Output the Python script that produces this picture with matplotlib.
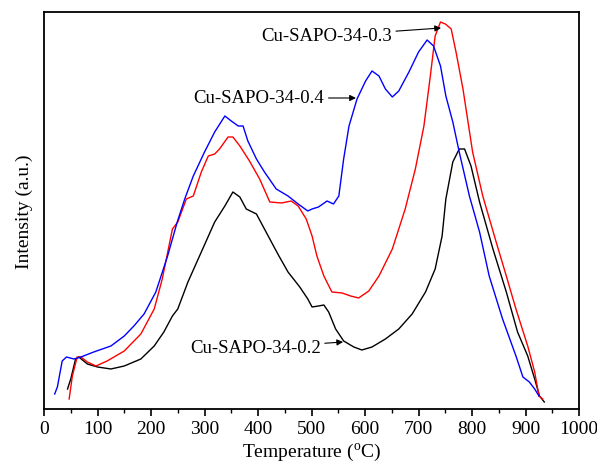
import matplotlib
matplotlib.use("Agg")
import matplotlib.pyplot as plt
from matplotlib.ticker import MultipleLocator

# --- data (temperature in C, intensity in a.u.) ---
t_02 = [44, 50, 59, 65, 81, 100, 125, 150, 181, 206, 224, 240, 250, 269, 294, 319, 338,
        353, 366, 378, 397, 419, 437, 456, 478, 493, 501, 513, 523, 532, 545, 560, 579,
        594, 613, 638, 663, 688, 713, 731, 744, 751, 764, 776, 786, 798, 814, 839, 864,
        885, 904, 917, 926, 935]
i_02 = [20, 30, 50, 52, 45, 42, 40, 43, 50, 63, 77, 93, 100, 127, 157, 187, 203,
        217, 212, 200, 195, 173, 155, 137, 122, 110, 102, 103, 104, 97, 80, 68, 62,
        59, 62, 70, 80, 95, 117, 140, 173, 210, 247, 260, 260, 243, 207, 160, 117,
        77, 53, 30, 13, 7]

t_03 = [47, 53, 62, 69, 81, 97, 118, 150, 181, 206, 221, 240, 250, 266, 279, 294, 307,
        319, 328, 344, 353, 366, 384, 403, 422, 444, 462, 475, 490, 501, 510, 523, 538,
        557, 573, 588, 607, 626, 651, 675, 694, 710, 722, 731, 741, 750, 761, 770, 783,
        801, 820, 845, 864, 882, 904, 917, 925, 932]
i_03 = [10, 33, 52, 52, 47, 43, 48, 58, 75, 100, 130, 180, 187, 210, 213, 237, 253,
        255, 260, 272, 272, 263, 248, 230, 207, 206, 208, 203, 190, 173, 153, 133, 117,
        116, 113, 111, 118, 133, 160, 200, 240, 283, 333, 373, 387, 385, 380, 357, 320,
        257, 213, 167, 133, 100, 63, 37, 13, 10]

t_04 = [20, 25, 34, 42, 56, 69, 93, 125, 150, 168, 187, 209, 231, 249, 263, 279, 300,
        319, 338, 350, 363, 372, 381, 397, 412, 434, 456, 475, 493, 501, 513, 529, 541,
        551, 560, 570, 585, 601, 613, 626, 638, 651, 663, 682, 700, 716, 728, 741, 751,
        764, 776, 795, 814, 832, 857, 882, 895, 907, 917, 925]
i_04 = [15, 22, 48, 52, 50, 52, 57, 63, 73, 83, 95, 117, 153, 187, 210, 233, 257,
        277, 293, 288, 283, 283, 268, 250, 237, 220, 213, 205, 198, 200, 202, 208, 205,
        213, 250, 283, 310, 328, 338, 333, 320, 312, 318, 337, 357, 369, 363, 343, 313,
        287, 257, 213, 177, 133, 90, 53, 32, 27, 20, 13]

# --- style ---
plt.rcParams['font.family'] = ['Liberation Serif', 'DejaVu Serif']
plt.rcParams['mathtext.fontset'] = 'custom'
plt.rcParams['mathtext.rm'] = 'Liberation Serif'

fig = plt.figure(figsize=(5.97, 4.64), dpi=100)
ax = fig.add_axes([0.0737, 0.1164, 0.8963, 0.8556])

lw = 1.0
ax.plot(t_02, i_02, color='black', linewidth=lw)
ax.plot(t_03, i_03, color='#ff0000', linewidth=lw)
ax.plot(t_04, i_04, color='#0000ff', linewidth=lw)

# --- annotations ---
arrow = dict(arrowstyle='-|>', color='black', lw=0.8, mutation_scale=9, shrinkA=1, shrinkB=0)
ax.annotate('Cu-SAPO-34-0.3', xy=(742, 381), xytext=(650, 373),
            ha='right', va='center', fontsize=13.5, arrowprops=arrow)
ax.annotate('Cu-SAPO-34-0.4', xy=(583, 311), xytext=(524, 311),
            ha='right', va='center', fontsize=13.5, arrowprops=arrow)
ax.annotate('Cu-SAPO-34-0.2', xy=(559, 67), xytext=(517, 61),
            ha='right', va='center', fontsize=13.5, arrowprops=arrow)

# --- axes ---
ax.set_xlim(0, 1000)
ax.set_ylim(0, 397)
ax.xaxis.set_major_locator(MultipleLocator(100))
ax.xaxis.set_minor_locator(MultipleLocator(50))
ax.set_yticks([])
ax.tick_params(axis='x', which='major', direction='out', length=5, width=1.2,
               labelsize=14, pad=3)
ax.tick_params(axis='x', which='minor', direction='out', length=3, width=1.0)
for s in ax.spines.values():
    s.set_linewidth(1.3)

ax.set_xlabel(r'Temperature ($\mathregular{^o}$C)', fontsize=14, labelpad=3)
ax.set_ylabel('Intensity (a.u.)', fontsize=14, labelpad=8)

fig.savefig('out.png', dpi=100)
